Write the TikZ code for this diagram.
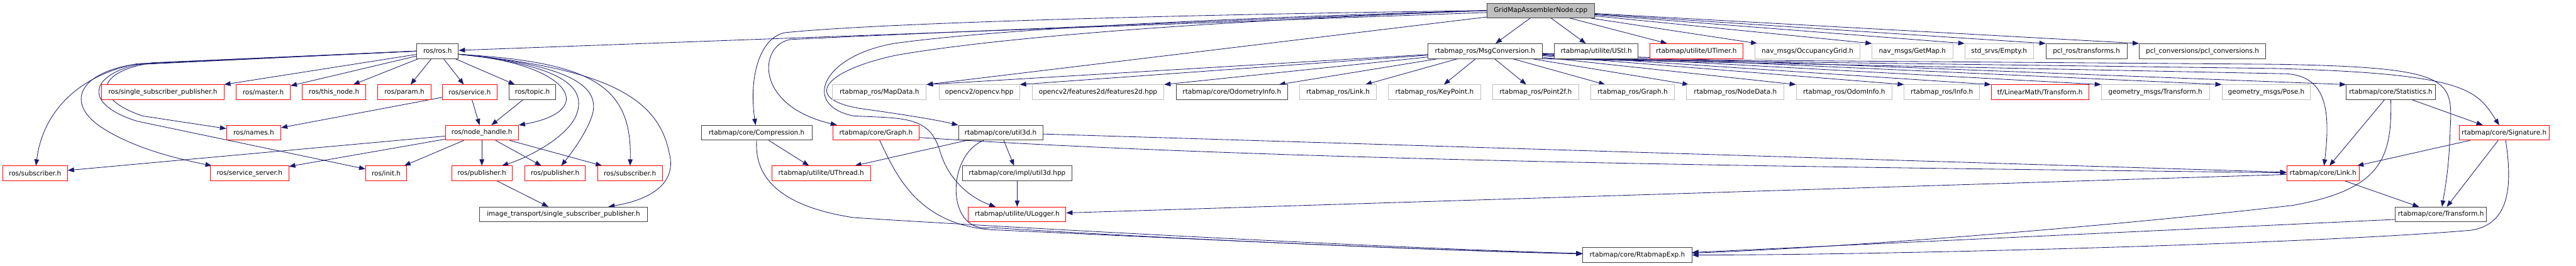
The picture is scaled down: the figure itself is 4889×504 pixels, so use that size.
\documentclass[tikz,border=0pt]{standalone}
\usepackage{fontspec}
\setmainfont{DejaVu Sans}
\usepackage{tikz}
\usetikzlibrary{arrows.meta,backgrounds}
\definecolor{edgeblue}{HTML}{191970}
\definecolor{lightedge}{HTML}{BFBFBF}
\definecolor{darkedge}{HTML}{404040}

\begin{document}
\begin{tikzpicture}[
  x=1pt, y=-1pt,
  box/.style={draw=darkedge, line width=1pt, fill=white, minimum height=28pt, inner sep=1pt, font=\fontsize{12.5}{15}\selectfont},
  redbox/.style={box, draw=red},
  graybox/.style={box, draw=lightedge},
  rootbox/.style={box, fill=lightedge},
  arrow/.style={draw=edgeblue, line width=1pt, -{Triangle[length=12pt, width=9pt]}}
]
\useasboundingbox (0,0) rectangle (4889,504);

\node[rootbox, minimum width=204pt] (root) at (2924,20) {GridMapAssemblerNode.cpp};

\node[box, minimum width=79pt] (ros) at (830.5,97) {ros/ros.h};
\node[box, minimum width=217pt] (msgconv) at (2818.5,97) {rtabmap\_ros/MsgConversion.h};
\node[box, minimum width=159pt] (ustl) at (3029.5,97) {rtabmap/utilite/UStl.h};
\node[redbox, minimum width=177pt] (utimer) at (3219.5,97) {rtabmap/utilite/UTimer.h};
\node[graybox, minimum width=199pt] (occgrid) at (3430.5,97) {nav\_msgs/OccupancyGrid.h};
\node[graybox, minimum width=153pt] (getmap) at (3629.5,97) {nav\_msgs/GetMap.h};
\node[graybox, minimum width=130pt] (empty) at (3794,97) {std\_srvs/Empty.h};
\node[box, minimum width=154pt] (pclros) at (3960,97) {pcl\_ros/transforms.h};
\node[box, minimum width=240pt] (pclconv) at (4180,97) {pcl\_conversions/pcl\_conversions.h};

\node[redbox, minimum width=232pt] (singlesp) at (309,175) {ros/single\_subscriber\_publisher.h};
\node[redbox, minimum width=103pt] (master) at (499.5,175) {ros/master.h};
\node[redbox, minimum width=120pt] (thisnode) at (634,175) {ros/this\_node.h};
\node[redbox, minimum width=101pt] (param) at (767.5,175) {ros/param.h};
\node[redbox, minimum width=103pt] (service) at (891.5,175) {ros/service.h};
\node[box, minimum width=89pt] (topic) at (1010.5,175) {ros/topic.h};
\node[graybox, minimum width=178pt] (mapdata) at (1669,175) {rtabmap\_ros/MapData.h};
\node[graybox, minimum width=153pt] (opencv) at (1858.5,175) {opencv2/opencv.hpp};
\node[graybox, minimum width=250pt] (feat2d) at (2084,175) {opencv2/features2d/features2d.hpp};
\node[box, minimum width=212pt] (odominfo) at (2338,175) {rtabmap/core/OdometryInfo.h};
\node[graybox, minimum width=145pt] (roslink) at (2539.5,175) {rtabmap\_ros/Link.h};
\node[graybox, minimum width=175pt] (keypoint) at (2722.5,175) {rtabmap\_ros/KeyPoint.h};
\node[graybox, minimum width=163pt] (point2f) at (2914.5,175) {rtabmap\_ros/Point2f.h};
\node[graybox, minimum width=159pt] (rosgraph) at (3098.5,175) {rtabmap\_ros/Graph.h};
\node[graybox, minimum width=185pt] (nodedata) at (3293.5,175) {rtabmap\_ros/NodeData.h};
\node[graybox, minimum width=182pt] (odomi) at (3500,175) {rtabmap\_ros/OdomInfo.h};
\node[graybox, minimum width=143pt] (info) at (3685.5,175) {rtabmap\_ros/Info.h};
\node[redbox, minimum width=185pt] (tflin) at (3871.5,175) {tf/LinearMath/Transform.h};
\node[graybox, minimum width=205pt] (geotf) at (4090.5,175) {geometry\_msgs/Transform.h};
\node[graybox, minimum width=168pt] (geopose) at (4301,175) {geometry\_msgs/Pose.h};
\node[box, minimum width=169pt] (stats) at (4537.5,175) {rtabmap/core/Statistics.h};

\node[redbox, minimum width=103pt] (names) at (481.5,252) {ros/names.h};
\node[redbox, minimum width=139pt] (nodeh) at (914.5,252) {ros/node\_handle.h};
\node[box, minimum width=210pt] (compr) at (1436,252) {rtabmap/core/Compression.h};
\node[redbox, minimum width=163pt] (graph) at (1662.5,252) {rtabmap/core/Graph.h};
\node[box, minimum width=160pt] (util3d) at (1899,252) {rtabmap/core/util3d.h};
\node[redbox, minimum width=171pt] (signature) at (4752.5,252) {rtabmap/core/Signature.h};

\node[redbox, minimum width=123pt] (subl) at (66.5,329) {ros/subscriber.h};
\node[redbox, minimum width=149pt] (srvserver) at (473.5,329) {ros/service\_server.h};
\node[redbox, minimum width=78pt] (init) at (733,329) {ros/init.h};
\node[redbox, minimum width=115pt] (pubA) at (914.5,329) {ros/publisher.h};
\node[redbox, minimum width=115pt] (pubB) at (1053.5,329) {ros/publisher.h};
\node[redbox, minimum width=123pt] (subr) at (1195.5,329) {ros/subscriber.h};
\node[redbox, minimum width=187pt] (uthread) at (1558.5,329) {rtabmap/utilite/UThread.h};
\node[box, minimum width=207pt] (impl) at (1930.5,329) {rtabmap/core/impl/util3d.hpp};
\node[redbox, minimum width=138pt] (link) at (4409,329) {rtabmap/core/Link.h};

\node[box, minimum width=319pt] (imgtr) at (1069.5,407) {image\_transport/single\_subscriber\_publisher.h};
\node[redbox, minimum width=185pt] (ulogger) at (1930.5,407) {rtabmap/utilite/ULogger.h};
\node[box, minimum width=173pt] (transform) at (4632.5,407) {rtabmap/core/Transform.h};

\node[box, minimum width=207pt] (rtexp) at (3107.5,484) {rtabmap/core/RtabmapExp.h};

\begin{scope}[on background layer]
% includes of the node source
\draw[arrow] (root) -- (ros);
\draw[arrow] (root) -- (msgconv);
\draw[arrow] (root) -- (ustl);
\draw[arrow] (root) -- (utimer);
\draw[arrow] (root) -- (occgrid);
\draw[arrow] (root) -- (getmap.north west);
\draw[arrow] (root) -- (empty.north west);
\draw[arrow] (root) -- (pclros.north west);
\draw[arrow] (root) -- (pclconv.north west);
\draw[arrow] (root) -- (mapdata.north east);
\draw[arrow] (root.west) .. controls (2200,28) and (1650,45) .. (1490,62) .. controls (1445,70) and (1420,140) .. (compr);
\draw[arrow] (root.west) .. controls (2300,40) and (1700,65) .. (1500,75) .. controls (1440,85) and (1430,200) .. ([xshift=8pt]graph.north west);
\draw[arrow] (root.west) .. controls (2300,40) and (1900,70) .. (1700,105) .. controls (1560,135) and (1520,190) .. (1640,207) .. controls (1720,218) and (1780,228) .. (util3d.north west);
\draw[arrow] (root.west) .. controls (2300,35) and (1900,55) .. (1700,82) .. controls (1560,105) and (1520,200) .. (1620,220) .. controls (1720,225) and (1765,220) .. (1785,290) .. controls (1800,340) and (1840,375) .. (ulogger);

% ros
\draw[arrow] (ros) -- (singlesp.north east);
\draw[arrow] (ros) -- (master);
\draw[arrow] (ros) -- (thisnode);
\draw[arrow] (ros) -- (param);
\draw[arrow] (ros) -- (service);
\draw[arrow] (ros) -- (topic);
\draw[arrow] (ros.west) -- (290,119) .. controls (185,135) and (170,185) .. (270,220) -- (names);
\draw[arrow] (ros.west) -- (260,121) .. controls (140,145) and (80,220) .. (subl);
\draw[arrow] (ros.west) -- (250,123) .. controls (150,140) and (125,195) .. (190,240) .. controls (250,280) and (330,300) .. (srvserver);
\draw[arrow] (ros.west) -- (270,121) .. controls (175,138) and (150,195) .. (260,230) -- (init);
\draw[arrow] ([yshift=-6pt]ros.east) .. controls (1080,120) and (1140,210) .. (nodeh.north east);
\draw[arrow] ([yshift=-6pt]ros.east) .. controls (1080,125) and (1110,170) .. (1095,215) .. controls (1080,260) and (1000,300) .. ([xshift=-20pt]pubA.north east);
\draw[arrow] ([yshift=-6pt]ros.east) .. controls (1100,125) and (1135,170) .. (1125,215) .. controls (1115,250) and (1085,290) .. (pubB);
\draw[arrow] ([yshift=-6pt]ros.east) .. controls (1120,118) and (1200,160) .. (subr);
\draw[arrow] ([yshift=-6pt]ros.east) .. controls (1160,130) and (1250,190) .. (1270,290) .. controls (1285,345) and (1240,378) .. ([xshift=-75pt]imgtr.north east);
\draw[arrow] (topic) -- (nodeh);
\draw[arrow] (service) -- (nodeh);
\draw[arrow] (service) -- (names);
\draw[arrow] (nodeh) -- (subl);
\draw[arrow] (nodeh) -- (srvserver);
\draw[arrow] (nodeh) -- (init);
\draw[arrow] (nodeh) -- (pubA);
\draw[arrow] (nodeh) -- (pubB);
\draw[arrow] (nodeh) -- (subr);
\draw[arrow] (pubA) -- (imgtr);

% msg conversion
\draw[arrow] (msgconv) -- (mapdata.north east);
\draw[arrow] (msgconv) -- (opencv.north east);
\draw[arrow] (msgconv) -- (feat2d.north east);
\draw[arrow] (msgconv) -- (odominfo);
\draw[arrow] (msgconv) -- (roslink);
\draw[arrow] (msgconv) -- (keypoint);
\draw[arrow] (msgconv) -- (point2f);
\draw[arrow] (msgconv) -- (rosgraph);
\draw[arrow] (msgconv) -- (nodedata);
\draw[arrow] (msgconv) -- (odomi.north west);
\draw[arrow] (msgconv) -- (info.north west);
\draw[arrow] (msgconv) -- (tflin.north west);
\draw[arrow] (msgconv) -- (geotf.north west);
\draw[arrow] (msgconv) -- (geopose.north west);
\draw[arrow] (msgconv) -- (stats.north west);
\draw[arrow] (msgconv.south east) -- (4340,140) .. controls (4410,145) and (4425,200) .. (link);
\draw[arrow] (msgconv.south east) -- (4320,122) .. controls (4660,128) and (4655,150) .. (4650,250) .. controls (4648,320) and (4640,360) .. (transform);
\draw[arrow] (msgconv.south east) -- (4320,130) .. controls (4680,140) and (4700,170) .. (signature);

% rtabmap core
\draw[arrow] (compr) -- (uthread);
\draw[arrow] (compr.south) .. controls (1432,330) and (1470,390) .. (1620,413) .. controls (1800,425) and (2600,470) .. (rtexp);
\draw[arrow] ([xshift=7pt]graph.south) .. controls (1700,330) and (1740,425) .. (1880,436) .. controls (2300,455) and (2700,475) .. (rtexp);
\draw[arrow] ([yshift=-9pt]graph.east) .. controls (2500,310) and (3600,318) .. (link);
\draw[arrow] ([xshift=-32pt]util3d.south) .. controls (1795,295) and (1795,445) .. (1880,432) .. controls (2200,452) and (2700,475) .. (rtexp);
\draw[arrow] (util3d) -- (uthread);
\draw[arrow] (util3d) -- (impl);
\draw[arrow] (util3d) -- (link);
\draw[arrow] (impl) -- (ulogger);
\draw[arrow] (link) -- (ulogger);
\draw[arrow] (link) -- (transform);
\draw[arrow] (stats) -- (link);
\draw[arrow] (stats) -- (signature);
\draw[arrow] (stats.south) .. controls (4540,300) and (4520,360) .. (4350,390) .. controls (4000,430) and (3500,470) .. (rtexp);
\draw[arrow] (signature) -- (link);
\draw[arrow] (signature) -- (transform);
\draw[arrow] ([xshift=3pt]signature.south) .. controls (4768,350) and (4765,425) .. (4690,437) .. controls (4400,462) and (3600,484) .. (rtexp);
\draw[arrow] ([yshift=5pt]transform.south west) -- (rtexp);
\end{scope}

\end{tikzpicture}
\end{document}
